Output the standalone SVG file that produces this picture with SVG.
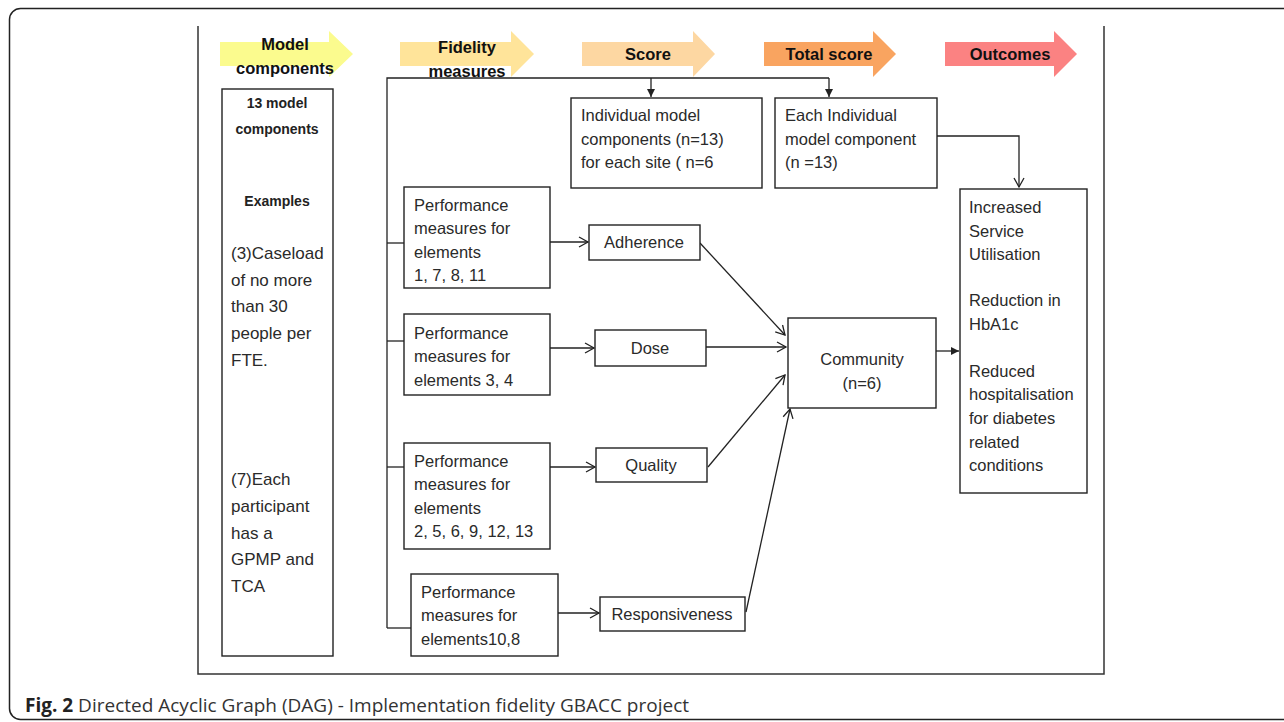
<svg xmlns="http://www.w3.org/2000/svg" width="1284" height="722" viewBox="0 0 1284 722">
<defs>
<marker id="open" markerWidth="12" markerHeight="12" refX="10" refY="6" orient="auto" markerUnits="userSpaceOnUse"><path d="M1,1 L10,6 L1,11" fill="none" stroke="#222" stroke-width="1.3"/></marker>
<marker id="filled" markerWidth="10" markerHeight="10" refX="8" refY="4" orient="auto" markerUnits="userSpaceOnUse"><path d="M0,0 L8,4 L0,8 Z" fill="#222"/></marker>
<style>
.box{fill:#fff;stroke:#222;stroke-width:1.4}
.t{font-family:"Liberation Sans",Arial,sans-serif;font-size:16.5px;fill:#2a2a2a}
.tl{font-family:"Liberation Sans",Arial,sans-serif;font-size:17px;fill:#2a2a2a}
.hb{font-family:"Liberation Sans",Arial,sans-serif;font-size:16.5px;font-weight:bold;fill:#111;text-anchor:middle}
.bb{font-family:"Liberation Sans",Arial,sans-serif;font-size:14px;font-weight:bold;fill:#222;text-anchor:middle}
.c{text-anchor:middle}
.ln{fill:none;stroke:#222;stroke-width:1.3}
.cap{font-family:"Open Sans","Noto Sans",sans-serif;font-size:19px;fill:#333}
</style>
</defs>
<rect x="9.5" y="8.5" width="1300" height="711" rx="11" fill="#fff" stroke="#222" stroke-width="1.5"/>
<path d="M198,26 V674 H1104 V26" fill="none" stroke="#333" stroke-width="1.5"/>

<g id="headers">
<g id="h-model"><polygon points="220,42 329,42 329,31 353,54 329,77 329,66 220,66" fill="#FBFB8E"/><text class="hb" x="285" y="50">Model</text><text class="hb" x="285" y="74">components</text></g>
<g id="h-fidelity"><polygon points="400,42 511,42 511,31 534,54 511,77 511,66 400,66" fill="#FFE49A"/><text class="hb" x="467" y="53">Fidelity</text><text class="hb" x="467" y="77">measures</text></g>
<g id="h-score"><polygon points="582,42 693,42 693,31 715,54 693,77 693,66 582,66" fill="#FDD7A2"/><text class="hb" x="648" y="60">Score</text></g>
<g id="h-total"><polygon points="764,42 873,42 873,31 896,54 873,77 873,66 764,66" fill="#F9A460"/><text class="hb" x="829" y="60">Total score</text></g>
<g id="h-outcomes"><polygon points="945,42 1054,42 1054,31 1077,54 1054,77 1054,66 945,66" fill="#FB8282"/><text class="hb" x="1010" y="60">Outcomes</text></g>
</g>

<g id="connectors">
<path class="ln" d="M387,628 V78 H829"/>
<path class="ln" d="M387,243 H404"/>
<path class="ln" d="M387,341 H404"/>
<path class="ln" d="M387,467 H404"/>
<path class="ln" d="M387,628 H411"/>
<path class="ln" d="M651,78 V97" marker-end="url(#filled)"/>
<path class="ln" d="M829,78 V97" marker-end="url(#filled)"/>
<path class="ln" d="M550,242 H588" marker-end="url(#open)"/>
<path class="ln" d="M550,348 H594" marker-end="url(#open)"/>
<path class="ln" d="M550,467 H595" marker-end="url(#open)"/>
<path class="ln" d="M558,613 H599" marker-end="url(#open)"/>
<path class="ln" d="M700,243 L785,335" marker-end="url(#open)"/>
<path class="ln" d="M706,347 L786,347" marker-end="url(#open)"/>
<path class="ln" d="M708,467 L785,375" marker-end="url(#open)"/>
<path class="ln" d="M746,612 L790,409" marker-end="url(#open)"/>
<path class="ln" d="M936,351 H959" marker-end="url(#filled)"/>
<path class="ln" d="M937,136 H1019 V187" marker-end="url(#open)"/>
</g>

<g id="model-components">
<rect class="box" x="222" y="89" width="111" height="567"/>
<text class="bb" x="277" y="108">13 model</text>
<text class="bb" x="277" y="134">components</text>
<text class="bb" x="277" y="206">Examples</text>
<text class="tl" x="231" y="259">(3)Caseload</text>
<text class="tl" x="231" y="286">of no more</text>
<text class="tl" x="231" y="312">than 30</text>
<text class="tl" x="231" y="339">people per</text>
<text class="tl" x="231" y="366">FTE.</text>
<text class="tl" x="231" y="485">(7)Each</text>
<text class="tl" x="231" y="512">participant</text>
<text class="tl" x="231" y="539">has a</text>
<text class="tl" x="231" y="565">GPMP and</text>
<text class="tl" x="231" y="592">TCA</text>
</g>

<g id="perf1"><rect class="box" x="404" y="187" width="146" height="101"/>
<text class="t" x="414" y="211">Performance</text><text class="t" x="414" y="234">measures for</text><text class="t" x="414" y="258">elements</text><text class="t" x="414" y="281">1, 7, 8, 11</text></g>
<g id="perf2"><rect class="box" x="404" y="314" width="146" height="81"/>
<text class="t" x="414" y="339">Performance</text><text class="t" x="414" y="362">measures for</text><text class="t" x="414" y="386">elements 3, 4</text></g>
<g id="perf3"><rect class="box" x="404" y="443" width="146" height="106"/>
<text class="t" x="414" y="467">Performance</text><text class="t" x="414" y="490">measures for</text><text class="t" x="414" y="514">elements</text><text class="t" x="414" y="537">2, 5, 6, 9, 12, 13</text></g>
<g id="perf4"><rect class="box" x="411" y="574" width="147" height="82"/>
<text class="t" x="421" y="598">Performance</text><text class="t" x="421" y="621">measures for</text><text class="t" x="421" y="645">elements10,8</text></g>

<g id="adherence"><rect class="box" x="589" y="225" width="111" height="35"/><text class="t c" x="644" y="248">Adherence</text></g>
<g id="dose"><rect class="box" x="595" y="330" width="111" height="36"/><text class="t c" x="650" y="354">Dose</text></g>
<g id="quality"><rect class="box" x="596" y="448" width="111" height="34"/><text class="t c" x="651" y="471">Quality</text></g>
<g id="responsiveness"><rect class="box" x="600" y="597" width="145" height="34"/><text class="t c" x="672" y="620">Responsiveness</text></g>

<g id="community"><rect class="box" x="788" y="318" width="148" height="90"/><text class="t c" x="862" y="365">Community</text><text class="t c" x="862" y="389">(n=6)</text></g>

<g id="score-box"><rect class="box" x="571" y="98" width="191" height="90"/>
<text class="t" x="581" y="121">Individual model</text><text class="t" x="581" y="145">components (n=13)</text><text class="t" x="581" y="168">for each site ( n=6</text></g>
<g id="total-box"><rect class="box" x="775" y="98" width="162" height="90"/>
<text class="t" x="785" y="121">Each Individual</text><text class="t" x="785" y="145">model component</text><text class="t" x="785" y="168">(n =13)</text></g>

<g id="outcomes-box"><rect class="box" x="960" y="189" width="127" height="304"/>
<text class="t" x="969" y="213">Increased</text><text class="t" x="969" y="237">Service</text><text class="t" x="969" y="260">Utilisation</text>
<text class="t" x="969" y="306">Reduction in</text><text class="t" x="969" y="330">HbA1c</text>
<text class="t" x="969" y="377">Reduced</text><text class="t" x="969" y="400">hospitalisation</text><text class="t" x="969" y="424">for diabetes</text><text class="t" x="969" y="448">related</text><text class="t" x="969" y="471">conditions</text></g>

<text class="cap" x="25" y="712"><tspan font-weight="bold" fill="#222">Fig. 2</tspan> Directed Acyclic Graph (DAG) - Implementation fidelity GBACC project</text>
</svg>
